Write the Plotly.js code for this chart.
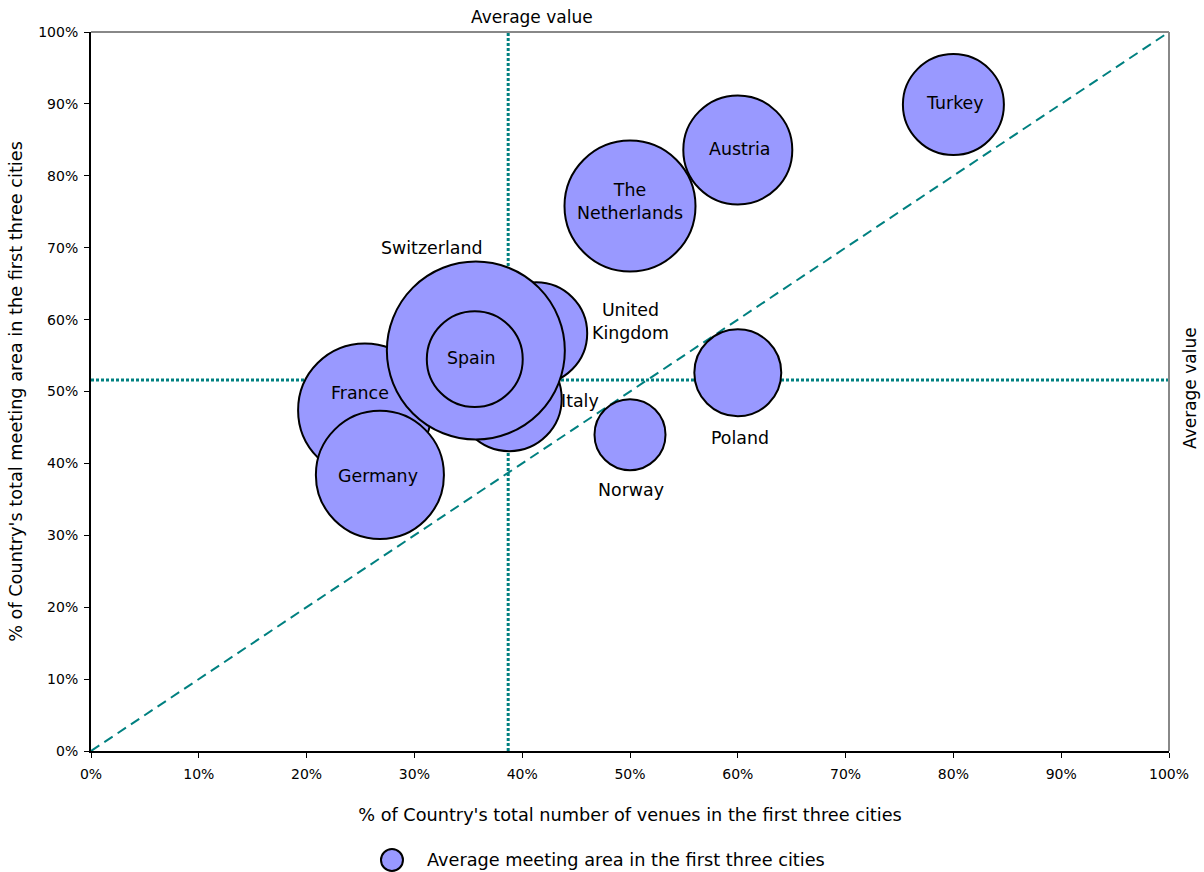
<!DOCTYPE html>
<html>
<head>
<meta charset="utf-8">
<script src="https://cdn.plot.ly/plotly-3.0.1.min.js"></script>
<style>
  html, body { margin: 0; padding: 0; background: #ffffff; }
  #chart { width: 1204px; height: 872px; }
</style>
</head>
<body>
<div id="chart"></div>
<script>
// ---- data ----
const countries = ["France", "United<br>Kingdom", "Italy", "Switzerland", "Spain", "Germany",
                   "The<br>Netherlands", "Austria", "Turkey", "Poland", "Norway"];
// % of country's total number of venues in the first three cities
const venueShare = [25.4, 41.3, 38.8, 35.7, 35.6, 26.8, 50.0, 60.0, 80.0, 60.0, 50.0];
// % of country's total meeting area in the first three cities
const areaShare = [47.4, 58.1, 49.0, 55.7, 54.5, 38.4, 75.8, 83.6, 89.9, 52.6, 44.0];
// average meeting area in the first three cities (relative units, bubble size)
const avgMeetingArea = [445, 260, 275, 792, 230, 410, 429, 297, 255, 189, 126];
// average values (reference lines)
const avgVenueShare = 38.7;
const avgAreaShare = 51.6;
// parity line y = x
const parityLine = [0, 100];
const tickValues = [0, 10, 20, 30, 40, 50, 60, 70, 80, 90, 100];
const tickLabels = ["0%", "10%", "20%", "30%", "40%", "50%", "60%", "70%", "80%", "90%", "100%"];
const seriesName = "Average meeting area in the first three cities";

// ---- label placement (pixel offsets, styling only) ----
const labelShift = {
  "France": [-5, 17],
  "United<br>Kingdom": [94, 12],
  "Italy": [71, -2],
  "Switzerland": [-44, 103],
  "Spain": [-3, 1],
  "Germany": [-2, -1],
  "The<br>Netherlands": [0, 5],
  "Austria": [2, 1],
  "Turkey": [2, 2],
  "Poland": [2, -65],
  "Norway": [1, -55]
};

const FONT = "DejaVu Sans, Verdana, sans-serif";
const TEAL = "#008080";

const traces = [
  {
    type: "scatter", mode: "lines",
    x: parityLine, y: parityLine,
    line: { color: TEAL, width: 2, dash: "10px,6px" },
    hoverinfo: "skip", showlegend: false
  },
  {
    type: "scatter", mode: "lines",
    x: [avgVenueShare, avgVenueShare], y: [tickValues[0], tickValues[tickValues.length - 1]],
    line: { color: TEAL, width: 3, dash: "3px,2px" },
    hoverinfo: "skip", showlegend: false
  },
  {
    type: "scatter", mode: "lines",
    x: [tickValues[0], tickValues[tickValues.length - 1]], y: [avgAreaShare, avgAreaShare],
    line: { color: TEAL, width: 3, dash: "3px,2px" },
    hoverinfo: "skip", showlegend: false
  },
  {
    type: "scatter", mode: "markers",
    name: seriesName,
    x: venueShare, y: areaShare,
    text: countries,
    marker: {
      size: avgMeetingArea,
      sizemode: "area",
      sizeref: 0.05,
      color: "#9999FF",
      opacity: 1,
      line: { color: "#000000", width: 2 }
    },
    cliponaxis: false,
    showlegend: false
  }
];

const LABEL_SIZE = 17.4;
const annotations = countries.map((c, i) => ({
  x: venueShare[i], y: areaShare[i], xref: "x", yref: "y",
  text: c, showarrow: false,
  xshift: labelShift[c][0], yshift: labelShift[c][1],
  font: { family: FONT, size: LABEL_SIZE, color: "#000000" },
  align: "center"
}));

annotations.push({
  x: avgVenueShare, xref: "x", y: 1, yref: "paper",
  xanchor: "center", yanchor: "bottom",
  xshift: 24, yshift: 3,
  text: "Average value", showarrow: false,
  font: { family: FONT, size: 17, color: "#000000" }
});
annotations.push({
  x: 1, xref: "paper", y: avgAreaShare, yref: "y",
  xanchor: "left", yanchor: "middle",
  xshift: 9, yshift: -8, textangle: -90,
  text: "Average value", showarrow: false,
  font: { family: FONT, size: 17, color: "#000000" }
});
// custom legend text
annotations.push({
  x: 0.3098, xref: "paper", y: -0.1516, yref: "paper",
  xanchor: "left", yanchor: "middle",
  text: seriesName, showarrow: false,
  font: { family: FONT, size: 17.7, color: "#000000" }
});

const shapes = [
  { type: "line", xref: "paper", yref: "paper", x0: 0, x1: 1, y0: 1, y1: 1,
    line: { color: "#888888", width: 2 } },
  { type: "line", xref: "paper", yref: "paper", x0: 1, x1: 1, y0: 0, y1: 1,
    line: { color: "#888888", width: 2 } },
  // legend symbol
  { type: "circle", xref: "paper", yref: "paper",
    xsizemode: "pixel", ysizemode: "pixel",
    xanchor: 0.2792, yanchor: -0.1516,
    x0: -11, x1: 11, y0: -11, y1: 11,
    fillcolor: "#9999FF", line: { color: "#000000", width: 2 } }
];

const layout = {
  width: 1204, height: 872,
  paper_bgcolor: "#ffffff", plot_bgcolor: "#ffffff",
  margin: { l: 91, r: 35, t: 32, b: 121 },
  font: { family: FONT, size: 14, color: "#000000" },
  showlegend: false,
  xaxis: {
    range: [0, 100], tickmode: "array", tickvals: tickValues, ticktext: tickLabels,
    showgrid: false, zeroline: false,
    showline: true, linecolor: "#000000", linewidth: 2,
    ticks: "outside", ticklen: 5, tickcolor: "#000000", tickwidth: 1,
    ticklabelstandoff: 4,
    tickfont: { family: FONT, size: 14, color: "#000000" },
    title: { text: "% of Country's total number of venues in the first three cities",
             font: { family: FONT, size: 17.7, color: "#000000" }, standoff: 28 },
    fixedrange: true
  },
  yaxis: {
    range: [0, 100], tickmode: "array", tickvals: tickValues, ticktext: tickLabels,
    showgrid: false, zeroline: false,
    showline: true, linecolor: "#000000", linewidth: 2,
    ticks: "outside", ticklen: 5, tickcolor: "#000000", tickwidth: 1,
    ticklabelstandoff: 3,
    tickfont: { family: FONT, size: 14, color: "#000000" },
    title: { text: "% of Country's total meeting area in the first three cities",
             font: { family: FONT, size: 17.7, color: "#000000" }, standoff: 11 },
    fixedrange: true
  },
  annotations: annotations,
  shapes: shapes
};

Plotly.newPlot("chart", traces, layout, { staticPlot: true, displayModeBar: false });
</script>
</body>
</html>
